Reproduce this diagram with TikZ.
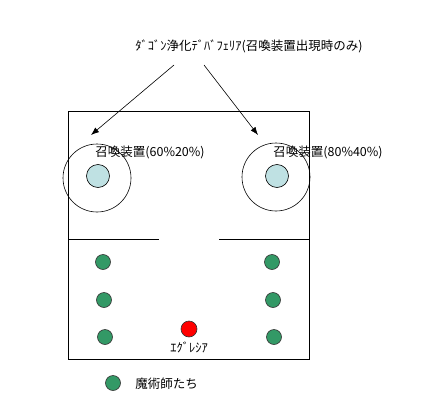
\documentclass[tikz,border=0pt]{standalone}
\usepackage{fontspec}
\setmainfont{Noto Sans CJK JP}
\usetikzlibrary{arrows.meta,positioning}
\definecolor{mage}{HTML}{339966}
\definecolor{device}{HTML}{BFE1E3}

\begin{document}
\begin{tikzpicture}[x=1pt,y=-1pt,font=\fontsize{12.5}{14}\selectfont,line width=0.8pt,
  dot/.style={circle,draw=black!80,line width=0.6pt,fill=mage,minimum size=15pt,inner sep=0pt},
  core/.style={circle,draw=black,line width=0.6pt,fill=device,minimum size=23pt,inner sep=0pt},
  zone/.style={circle,draw=black,line width=0.6pt,minimum size=68pt,inner sep=0pt},
  lbl/.style={inner sep=0pt,anchor=west},
  arr/.style={-{Latex[length=8pt,width=6pt]},line width=0.6pt}]
\useasboundingbox (0,0) rectangle (431,415);
% room
\draw (68,111) rectangle (309,359);
\coordinate (wl1) at (68,239);\coordinate (wl2) at (159,239);
\coordinate (wr1) at (219,239);\coordinate (wr2) at (309,239);
\draw (wl1)--(wl2);\draw (wr1)--(wr2);
% summoning devices
\node[zone] (z1) at (97,178) {};
\node[zone] (z2) at (276,177) {};
\node[core] (d1) at (98,176) {};
\node[core] (d2) at (277,176) {};
\node[lbl] (l1) at (95,152) {召喚装置(60\%20\%)};
\node[lbl] (l2) at (273,152) {召喚装置(80\%40\%)};
% debuff area
\node (title) at (249,46) {ﾀﾞｺﾞﾝ浄化ﾃﾞﾊﾞﾌｪﾘｱ(召喚装置出現時のみ)};
\coordinate (s1) at (174,65);\coordinate (e1) at (91,135);
\coordinate (s2) at (204,65);\coordinate (e2) at (258,135);
\draw[arr](s1)--(e1);\draw[arr](s2)--(e2);
% mages
\node[dot] (m1) at (103,262) {};
\node[dot] (m2) at (104,300) {};
\node[dot] (m3) at (105,337) {};
\node[dot] (m4) at (272,262) {};
\node[dot] (m5) at (273,300) {};
\node[dot] (m6) at (274,337) {};
\node[dot,fill=red,minimum size=16pt] (eg) at (189,329) {};
\node[below=1pt of eg] (egname) {ｴｸﾞﾚｼｱ};
% legend
\node[dot] (key) at (113,383) {};
\node[lbl] (keytext) at (135,384) {魔術師たち};
\end{tikzpicture}
\end{document}
